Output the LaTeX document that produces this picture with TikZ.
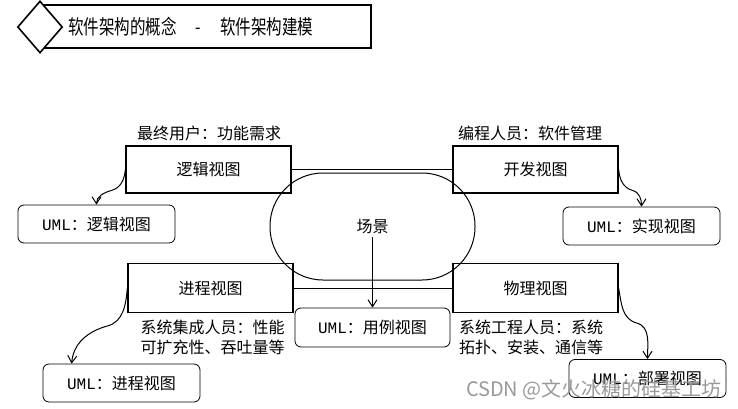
\documentclass[tikz,border=0pt]{standalone}
\usepackage{fontspec}
\setmainfont{Noto Sans CJK SC}
\newfontfamily\umlfont{Liberation Mono}
\usetikzlibrary{arrows.meta,shapes.geometric}

\begin{document}
\begin{tikzpicture}[
    x=1pt, y=1pt,
    viewbox/.style={
        rectangle, draw, line width=1.3pt,
        minimum width=165pt, minimum height=47pt,
        inner sep=0pt,
        font=\fontsize{16}{18}\selectfont
      },
    umlbox/.style={
        rectangle, draw, rounded corners=6pt, line width=0.8pt,
        minimum width=157pt, minimum height=38pt, inner sep=0pt,
        font=\fontsize{16}{18}\selectfont
      },
    note/.style={font=\fontsize{16}{20}\selectfont, inner sep=0pt, align=left},
    flow/.style={-{Straight Barb[length=7pt,width=9pt]}, line width=1pt},
    link/.style={line width=1pt},
  ]
  \useasboundingbox (0,0) rectangle (738,-409);

  % title bar
  \node[draw, line width=1.3pt, minimum width=331pt, minimum height=43pt, inner sep=0pt] (titlebar) at (205.5,-26.5) {};
  \node[diamond, draw, fill=white, line width=1.6pt, minimum width=45pt, minimum height=52pt, inner sep=0pt] (titlemark) at (40,-27) {};
  \node[anchor=west, inner sep=0pt, font=\fontsize{15.5}{18}\selectfont] (titletext) at (68,-27) {\scalebox{1}[1.3]{软件架构的概念\hspace{19pt}-\hspace{19pt}软件架构建模}};

  % the four views
  \node[viewbox] (logic) at (208.5,-169.5) {逻辑视图};
  \node[viewbox] (develop) at (535.5,-169.5) {开发视图};
  \node[viewbox, minimum height=49pt] (process) at (210.5,-288) {进程视图};
  \node[viewbox, minimum height=49pt] (physical) at (535.5,-288) {物理视图};

  \node[note] (enduser) at (209,-133) {最终用户：功能需求};
  \node[note] (programmer) at (530,-133) {编程人员：软件管理};
  \node[note] (integrator) at (212.5,-337) {系统集成人员：性能\\可扩充性、吞吐量等};
  \node[note, align=center] (engineer) at (531,-337) {系统工程人员：系统\\拓扑、安装、通信等};

  \draw[link] (logic.east) -- (develop.west);
  \draw[link] (process.east) -- (physical.west);

  % scenarios in the middle
  \node[draw, line width=1pt, rounded corners=53pt, minimum width=205pt, minimum height=107pt] (stage) at (372.5,-226.5) {};
  \node[font=\fontsize{16}{18}\selectfont] (scene) at (stage) {场景};

  % UML boxes
  \node[umlbox] (umllogic) at (96.5,-224) {{\umlfont UML}：逻辑视图};
  \node[umlbox] (umlimpl) at (641.5,-226) {{\umlfont UML}：实现视图};
  \node[umlbox] (umlproc) at (121.5,-383) {{\umlfont UML}：进程视图};
  \node[umlbox] (umldeploy) at (647.5,-378.5) {{\umlfont UML}：部署视图};
  \node[umlbox, minimum width=155pt, minimum height=39pt] (umlcase) at (372.5,-327.5) {{\umlfont UML}：用例视图};

  \draw[flow] (scene.south) -- (umlcase.north);
  \draw[flow] (logic.west) to[out=-95,in=15] ++(-14,-21) to[out=195,in=90] (umllogic.north);
  \draw[flow] (develop.east) to[out=-85,in=165] ++(14,-21) to[out=-15,in=90] (umlimpl.north);
  \draw[flow] (process.west) to[out=-95,in=15] ++(-20,-38) to[out=195,in=85] ([xshift=29pt]umlproc.north west);
  \draw[flow] (physical.east) to[out=-80,in=165] ++(18,-35) to[out=-15,in=90] (umldeploy.north);

  \node[anchor=east, inner sep=0pt, text=black!40, font=\fontsize{20}{22}\selectfont] (watermark) at (722,-390) {CSDN @文火冰糖的硅基工坊};
\end{tikzpicture}
\end{document}
